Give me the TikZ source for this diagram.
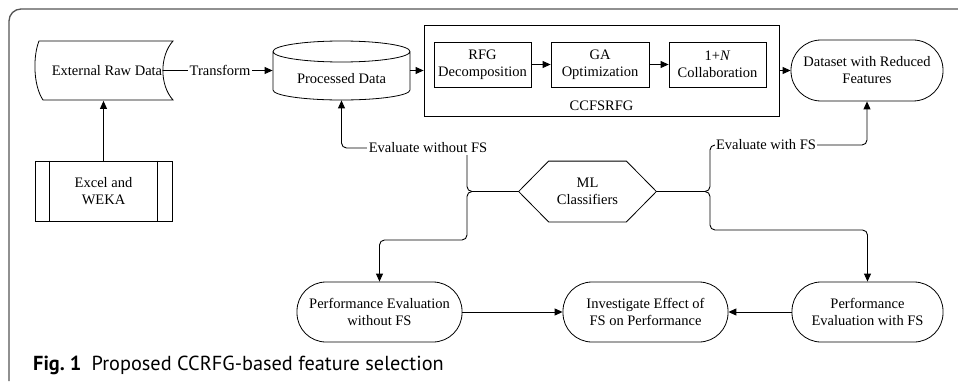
\documentclass[tikz,border=0pt]{standalone}
\usepackage{fontspec}
\setmainfont{Liberation Serif}
\setsansfont{PT Sans}
\usetikzlibrary{arrows.meta,calc}

\definecolor{ccrfgSketchFrameColor}{RGB}{85,85,85}
\newcommand{\ccrfgSketchFont}{\fontsize{14.5}{17}\selectfont}
\tikzset{ccrfgSketchBox/.style={
    font=\ccrfgSketchFont,
    align=center,
    draw=black,
    line width=0.8pt,
    inner sep=0pt,
  }
}
\tikzset{ccrfgSketchPlain/.style={
    ccrfgSketchBox,
    draw=none,
  }
}
\tikzset{ccrfgSketchTerminal/.style={
    ccrfgSketchBox,
    rounded corners=29pt,
    minimum height=60pt,
  }
}
\tikzset{ccrfgSketchOutline/.style={
    line width=0.8pt,
    black,
  }
}
\tikzset{ccrfgSketchArrow/.style={
    -{Triangle[length=8pt,width=7pt]},
    line width=0.9pt,
    rounded corners=5pt,
    black,
  }
}
\tikzset{ccrfgSketchLabel/.style={
    font=\ccrfgSketchFont,
    fill=white,
    inner sep=1.5pt,
  }
}
\newcommand{\ccrfgSketchDrawNodes}{
  \node [ccrfgSketchPlain, minimum height=60pt] (raw)
  at (107,310.5) {External Raw Data};
  \draw [ccrfgSketchOutline] (39,340) .. controls (33,325) and (33,296) .. (43,281)
  -- (173,281) .. controls (159.5,296) and (159.5,325) .. (173,340) -- cycle;
  \node [ccrfgSketchPlain, minimum width=137pt, minimum height=42pt] (proc)
  at (341.5,302) {Processed Data};
  \draw [ccrfgSketchOutline] (273,329.5) -- (273,291)
  arc[start angle=180, end angle=360, x radius=68.5, y radius=10] -- (410,329.5)
  arc[start angle=0, end angle=180, x radius=68.5, y radius=10.5]
  arc[start angle=180, end angle=360, x radius=68.5, y radius=10.5];
  \node [ccrfgSketchBox, minimum width=355pt, minimum height=91pt,
  label={[anchor=south, inner sep=6pt, font=\ccrfgSketchFont]south:CCFSRFG}] (cc)
  at (601.5,310.5) {};
  \node [ccrfgSketchBox, minimum width=97pt, minimum height=45pt] (rfg)
  at (482.5,316.5) {RFG\\Decomposition};
  \node [ccrfgSketchBox, minimum width=98pt, minimum height=45pt] (ga)
  at (600,316.5) {GA\\Optimization};
  \node [ccrfgSketchBox, minimum width=97pt, minimum height=45pt] (col)
  at (717.5,316.5) {1+\textit{N}\\Collaboration};
  \node [ccrfgSketchTerminal, minimum width=152pt, minimum height=61pt, rounded corners=30pt] (ds)
  at (867,310.5) {Dataset with Reduced\\Features};
  \node [ccrfgSketchBox, minimum width=137pt, minimum height=60pt] (xl)
  at (103.5,190) {Excel and\\WEKA};
  \draw [ccrfgSketchOutline] ($(xl.north west)+(15,0)$) -- ($(xl.south west)+(15,0)$);
  \draw [ccrfgSketchOutline] ($(xl.north east)+(-15,0)$) -- ($(xl.south east)+(-15,0)$);
  \node [ccrfgSketchPlain, minimum width=137pt, minimum height=60pt] (ml)
  at (587.5,189.5) {ML\\Classifiers};
  \draw [ccrfgSketchOutline] (ml.west) -- ($(ml.north west)+(30,0)$)
  -- ($(ml.north east)+(-30,0)$) -- (ml.east) -- ($(ml.south east)+(-30,0)$)
  -- ($(ml.south west)+(30,0)$) -- cycle;
  \node [ccrfgSketchTerminal, minimum width=165pt] (pw)
  at (379.5,69) {Performance Evaluation\\without FS};
  \node [ccrfgSketchTerminal, minimum width=165pt] (inv)
  at (645.5,69) {Investigate Effect of\\FS on Performance};
  \node [ccrfgSketchTerminal, minimum width=151pt] (pwf)
  at (867.5,69) {Performance\\Evaluation with FS};
}
\newcommand{\ccrfgSketchConnectNodes}{
  \draw [ccrfgSketchArrow] (xl.north) to (xl.north |- raw.south);
  \draw [ccrfgSketchArrow] (raw.east) to (raw.east -| proc.west);
  \draw [ccrfgSketchArrow] (proc.east |- cc.west) to (cc.west);
  \draw [ccrfgSketchArrow] (rfg.east) to (ga.west);
  \draw [ccrfgSketchArrow] (ga.east) to (col.west);
  \draw [ccrfgSketchArrow] (cc.east) to (ds.west);
  \draw [ccrfgSketchArrow] (ml.west) -| (467,233) -| (proc.south);
  \draw [ccrfgSketchArrow] (ml.west) -| (467,141) -| (pw.north);
  \draw [ccrfgSketchArrow] (ml.east) -| (710,236) -| (ds.south);
  \draw [ccrfgSketchArrow] (ml.east) -| (710,151) -| (pwf.north);
  \draw [ccrfgSketchArrow] (pw.east) to (inv.west);
  \draw [ccrfgSketchArrow] (pwf.west) to (inv.east);
}

\begin{document}
\begin{tikzpicture}[x=1pt, y=1pt]
      \useasboundingbox (0,0) rectangle (958,381);
      \draw [ccrfgSketchFrameColor, line width=1.3pt, rounded corners=12pt]
      (9,0) -- (9,372) -- (958,372);
      \ccrfgSketchDrawNodes
      \ccrfgSketchConnectNodes

      \node [ccrfgSketchLabel] (transform) at (220,310.5) {Transform};
      \node [ccrfgSketchLabel] (evalno) at (428,233) {Evaluate without FS};
      \node [ccrfgSketchLabel] (evalyes) at (766,236) {Evaluate with FS};
      \node [anchor=base west, inner sep=0pt, font=\sffamily\fontsize{20.3}{23}\selectfont] (caption)
      at (33,11) {\textbf{Fig.~1}\hspace{0.5em}Proposed CCRFG-based feature selection};
    \end{tikzpicture}
\end{document}
